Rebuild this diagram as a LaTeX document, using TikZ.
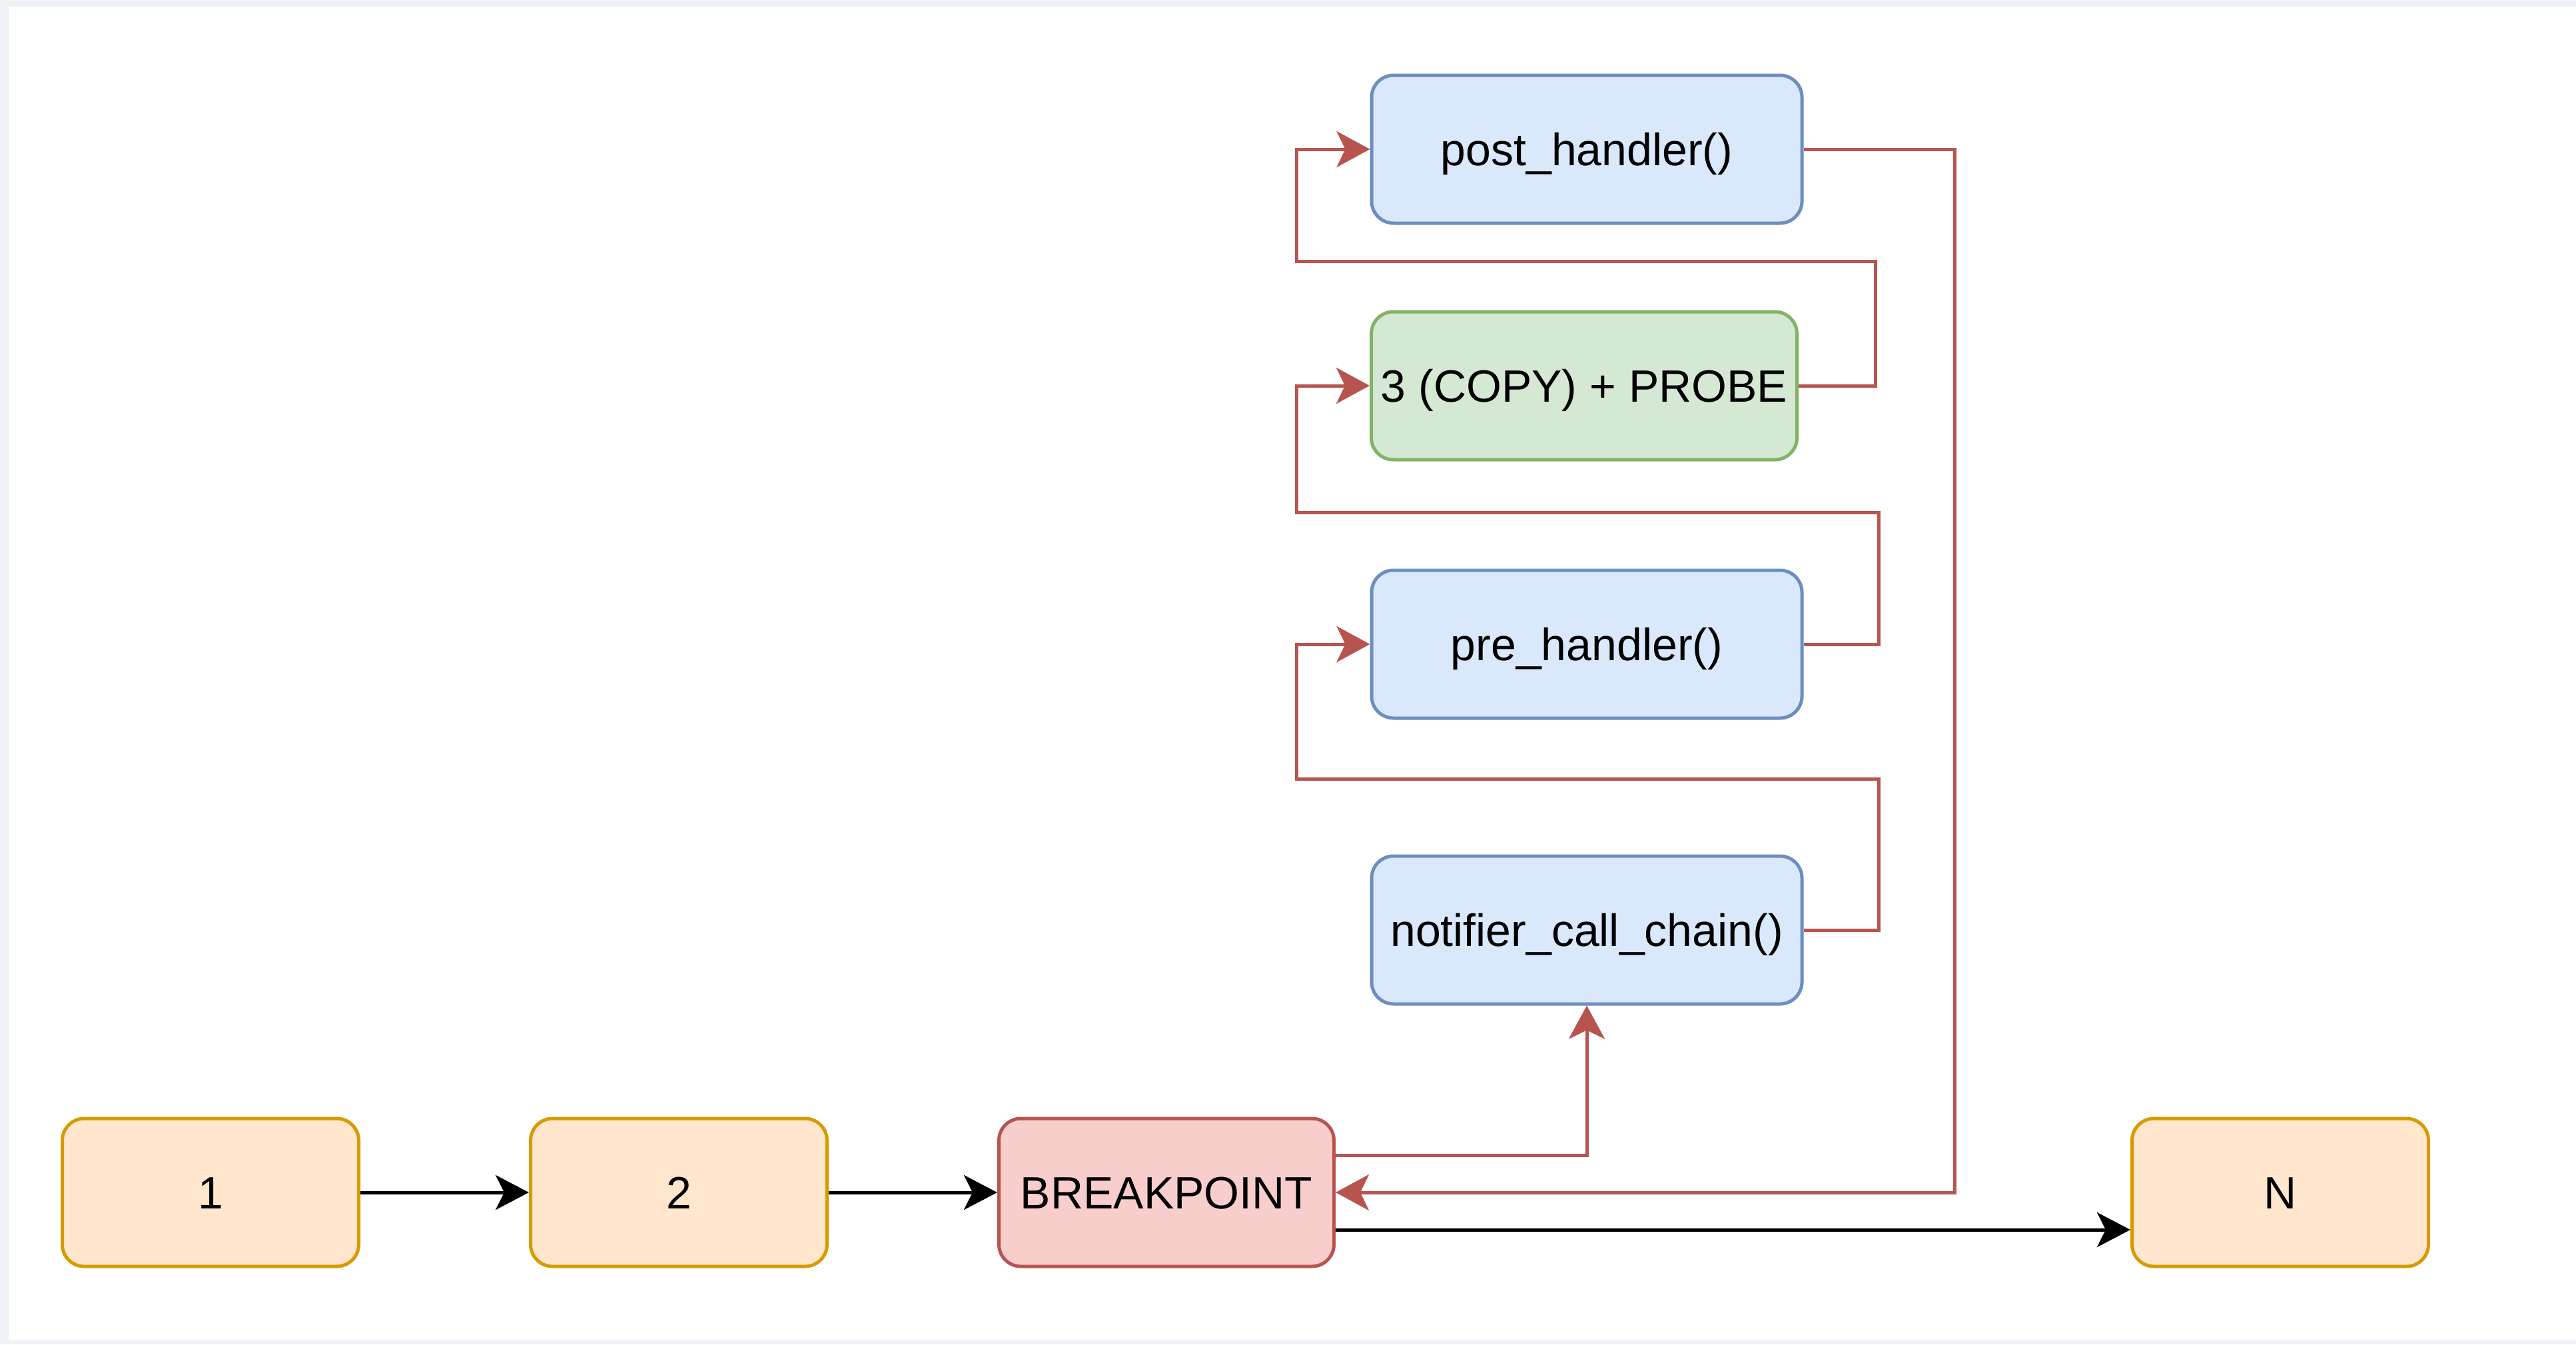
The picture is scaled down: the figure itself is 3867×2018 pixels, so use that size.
\documentclass[tikz,border=0pt]{standalone}
\usepackage{fontspec}
\setmainfont{Liberation Sans}
\usetikzlibrary{arrows.meta}

\definecolor{framebg}{RGB}{238,242,247}
\definecolor{orfill}{HTML}{FFE6CC}
\definecolor{ordraw}{HTML}{D79B00}
\definecolor{rdfill}{HTML}{F8CECC}
\definecolor{rddraw}{HTML}{B85450}
\definecolor{blfill}{HTML}{DAE8FC}
\definecolor{bldraw}{HTML}{6C8EBF}
\definecolor{grfill}{HTML}{D5E8D4}
\definecolor{grdraw}{HTML}{82B366}

\begin{document}
\begin{tikzpicture}[x=1pt,y=-1pt,
  box/.style={draw, rounded corners=33pt, line width=5pt, minimum height=222pt,
    inner sep=0pt, text=black, font=\fontsize{68}{80}\selectfont,
    text height=49pt, text depth=0pt},
  orangebox/.style={box, fill=orfill, draw=ordraw, minimum width=445pt},
  redbox/.style={box, fill=rdfill, draw=rddraw, minimum width=503pt},
  bluebox/.style={box, fill=blfill, draw=bldraw, minimum width=646pt},
  greenbox/.style={box, fill=grfill, draw=grdraw, minimum width=639pt},
  flow/.style={draw=black, line width=5pt,
    -{Stealth[length=50pt, width=52pt, inset=13pt]}},
  redflow/.style={draw=rddraw, line width=5pt,
    -{Stealth[length=50pt, width=54pt, inset=13pt]}}]

  % page frame
  \fill[framebg] (0,0) rectangle (3867,2018);
  \fill[white] (13,10) rectangle (3867,2012);
  \useasboundingbox (0,0) rectangle (3867,2018);

  % main execution path
  \node[orangebox] (n1) at (316,1790) {1};
  \node[orangebox] (n2) at (1019,1790) {2};
  \node[redbox]    (bp) at (1751,1790) {BREAKPOINT};
  \node[orangebox] (nn) at (3423,1790) {N};

  % breakpoint handling chain
  \node[bluebox]  (notif) at (2382,1396) {notifier\_call\_chain()};
  \node[bluebox]  (pre)   at (2382,967)  {pre\_handler()};
  \node[greenbox] (probe) at (2378,579)  {3 (COPY) + PROBE};
  \node[bluebox]  (post)  at (2382,224)  {post\_handler()};

  % normal flow
  \draw[flow] (n1) -- (n2);
  \draw[flow] (n2) -- (bp);
  \draw[flow] ([yshift=-56pt]bp.east) -- ([yshift=-56pt]nn.west);

  % trap path
  \draw[redflow] ([yshift=56pt]bp.east) -| (notif.south);
  \draw[redflow] (notif.east) -- ++(113,0) |- (1946,1169) |- (pre.west);
  \draw[redflow] (pre.east) -- ++(113,0) |- (1946,769) |- (probe.west);
  \draw[redflow] (probe.east) -- ++(115,0) |- (1946,392) |- (post.west);
  \draw[redflow] (post.east) -- ++(227,0) |- (bp.east);
\end{tikzpicture}
\end{document}
